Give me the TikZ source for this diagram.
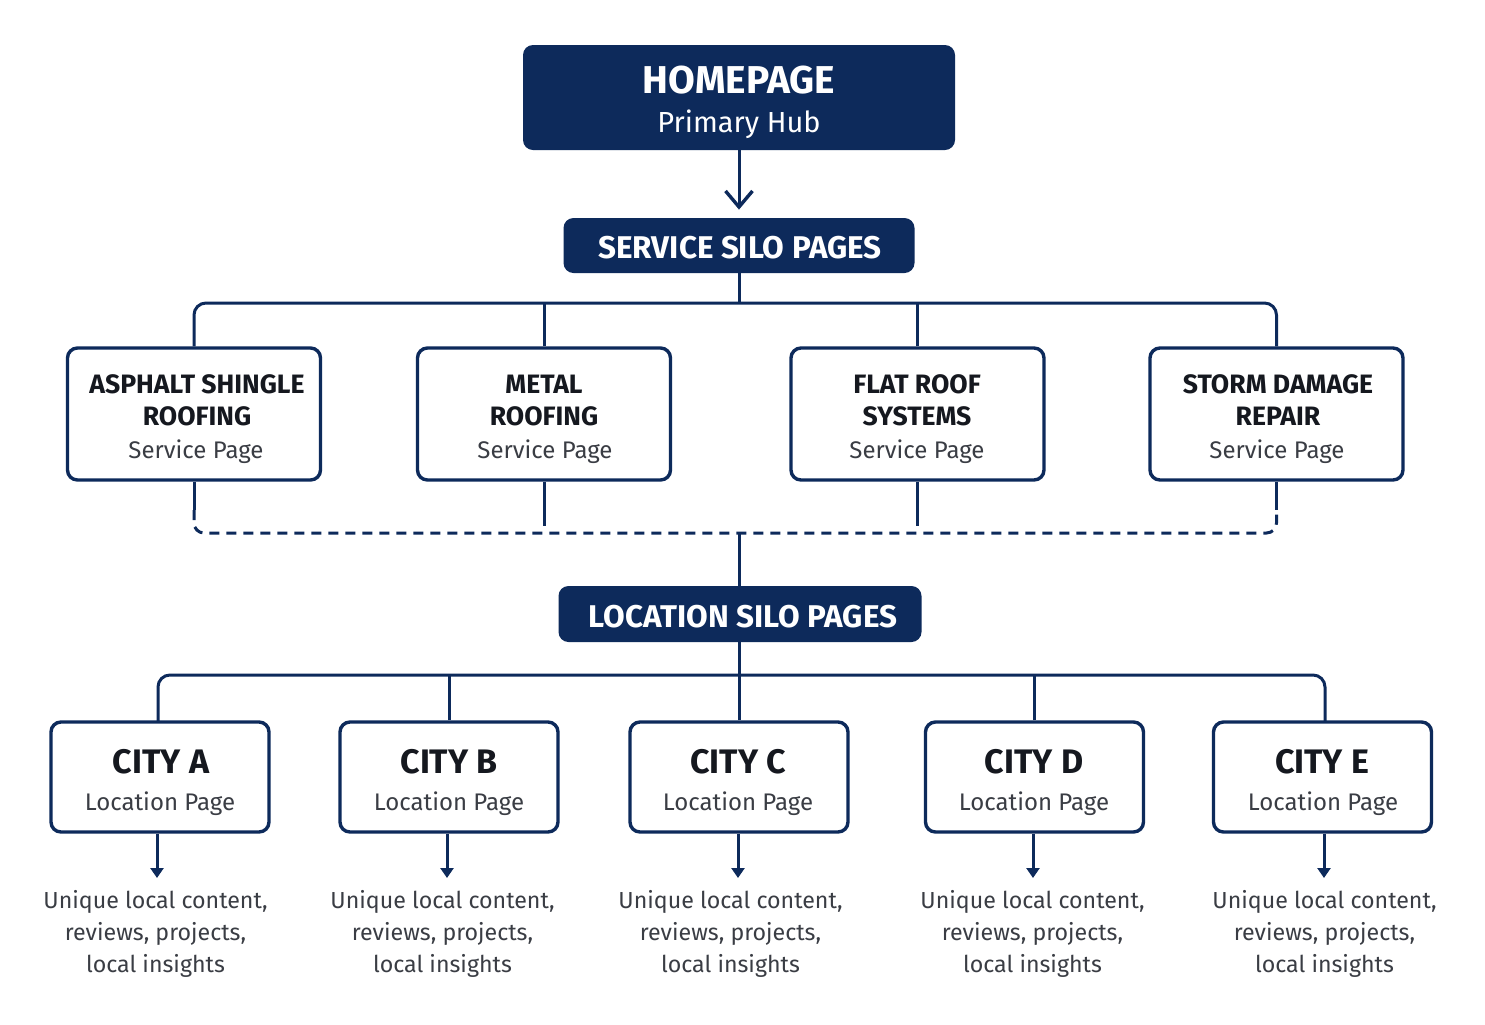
\documentclass[tikz,border=0pt]{standalone}
\usepackage{fontspec}
\setmainfont{Fira Sans}
\usetikzlibrary{arrows.meta}
\definecolor{navy}{HTML}{0D2A5B}
\definecolor{ink}{HTML}{15181F}
\definecolor{subgray}{HTML}{3A3D44}
\tikzset{
  hub/.style={fill=navy, rounded corners=5pt, draw=none, inner sep=0pt},
  svcbox/.style={draw=navy, line width=1.7pt, fill=white, rounded corners=5pt, minimum width=126.5pt, minimum height=66pt, inner sep=0pt},
  citybox/.style={draw=navy, line width=1.7pt, fill=white, rounded corners=5pt, minimum width=109pt, minimum height=55pt, inner sep=0pt},
  conn/.style={draw=navy, line width=1.5pt},
  dconn/.style={draw=navy, line width=1.5pt, dash pattern=on 5pt off 3.5pt},
  hubtitle/.style={text=white, font=\bfseries\fontsize{19.4}{22}\selectfont, anchor=base, inner sep=0pt},
  hubsub/.style={text=white, font=\fontsize{14.5}{17}\selectfont, anchor=base, inner sep=0pt},
  silotext/.style={text=white, font=\bfseries\fontsize{15.7}{18}\selectfont, anchor=base, inner sep=0pt},
  svctitle/.style={text=ink, font=\bfseries\fontsize{13.3}{16}\selectfont, anchor=base, inner sep=0pt, align=center},
  subtext/.style={text=subgray, font=\fontsize{12}{14}\selectfont, anchor=base, inner sep=0pt},
  citytitle/.style={text=ink, font=\bfseries\fontsize{17}{20}\selectfont, anchor=base, inner sep=0pt},
  desc/.style={text=subgray, font=\fontsize{11.6}{16}\selectfont, anchor=base, inner sep=0pt, align=center},
  cityarrow/.style={conn, -{Triangle[length=5pt,width=6.5pt]}},
}
\begin{document}
\begin{tikzpicture}[x=0.5pt,y=-0.5pt]
\useasboundingbox[fill=white] (0,0) rectangle (1485,1024);

% hub boxes
\node[hub, minimum width=216pt, minimum height=52.5pt] (home) at (739,97.5) {};
\node[hubtitle] (homet) at (739,93) {HOMEPAGE};
\node[hubsub] (homes) at (739,132) {Primary Hub};

\node[hub, minimum width=175.5pt, minimum height=27.5pt] (svc) at (739,245.5) {};
\node[silotext] (svct) at (740,258) {SERVICE SILO PAGES};

\node[hub, minimum width=181.5pt, minimum height=28pt] (loc) at (740,614) {};
\node[silotext] (loct) at (743,627) {LOCATION SILO PAGES};

\draw[conn, -{Straight Barb[length=8pt,width=13.5pt,line width=1.7pt]}] (home.south) -- ([yshift=4pt]svc.north);

% service boxes
\node[svcbox] (s1) at (194,414) {};
\node[svcbox] (s2) at (544,414) {};
\node[svcbox] (s3) at (917.5,414) {};
\node[svcbox] (s4) at (1276.5,414) {};

\node[svctitle] (t1) at (197,425) {ASPHALT SHINGLE\\ROOFING};
\node[svctitle] (t2) at (544,425) {METAL\\ROOFING};
\node[svctitle] (t3) at (917,425) {FLAT ROOF\\SYSTEMS};
\node[svctitle] (t4) at (1278,425) {STORM DAMAGE\\REPAIR};
\node[subtext] (u1) at (196,458) {Service Page};
\node[subtext] (u2) at (545,458) {Service Page};
\node[subtext] (u3) at (917,458) {Service Page};
\node[subtext] (u4) at (1277,458) {Service Page};

% service tree
\coordinate (sbar) at (739,303);
\draw[conn] (svc.south) -- (sbar);
\draw[conn, rounded corners=6pt] (s1.north) |- (sbar) -| (s4.north);
\draw[conn] (s2.north) -- (s2.north |- sbar);
\draw[conn] (s3.north) -- (s3.north |- sbar);

% dashed merge
\coordinate (m1) at (194,510);
\coordinate (m4) at (1276.5,510);
\coordinate (mbar) at (739,533);
\draw[conn] (s1.south) -- (m1);
\draw[conn] (s4.south) -- (m4);
\draw[conn] (s2.south) -- ++(0,-22pt);
\draw[conn] (s3.south) -- ++(0,-22pt);
\draw[dconn, rounded corners=5pt] (m1) |- (mbar) -| (m4);
\draw[conn] (mbar) -- (mbar |- loc.north);

% city boxes
\node[citybox] (ca) at (160,777) {};
\node[citybox] (cb) at (449,777) {};
\node[citybox] (cc) at (739,777) {};
\node[citybox] (cd) at (1034.5,777) {};
\node[citybox] (ce) at (1322.5,777) {};

\node[citytitle] (na) at (161,773) {CITY A};
\node[citytitle] (nb) at (449,773) {CITY B};
\node[citytitle] (nc) at (738,773) {CITY C};
\node[citytitle] (nd) at (1034,773) {CITY D};
\node[citytitle] (ne) at (1322,773) {CITY E};
\node[subtext] (la) at (160,810) {Location Page};
\node[subtext] (lb) at (449,810) {Location Page};
\node[subtext] (lc) at (738,810) {Location Page};
\node[subtext] (ld) at (1034,810) {Location Page};
\node[subtext] (le) at (1323,810) {Location Page};

% location tree
\coordinate (lbar) at (739,675);
\draw[conn] (lbar |- loc.south) -- (lbar);
\coordinate (la0) at (158,722);
\coordinate (le0) at (1325,722);
\draw[conn, rounded corners=6pt] (la0) |- (lbar) -| (le0);
\draw[conn] (cb.north) -- (cb.north |- lbar);
\draw[conn] (cc.north) -- (cc.north |- lbar);
\draw[conn] (cd.north) -- (cd.north |- lbar);

% arrows to descriptions
\coordinate (ta) at (157,878);
\coordinate (tb) at (447,878);
\coordinate (tc) at (738,878);
\coordinate (td) at (1033,878);
\coordinate (te) at (1324,878);
\draw[cityarrow] (ca.south -| ta) -- (ta);
\draw[cityarrow] (cb.south -| tb) -- (tb);
\draw[cityarrow] (cc.south -| tc) -- (tc);
\draw[cityarrow] (cd.south -| td) -- (td);
\draw[cityarrow] (ce.south -| te) -- (te);

\node[desc] (da) at (155.5,972) {Unique local content,\\reviews, projects,\\local insights};
\node[desc] (db) at (442.5,972) {Unique local content,\\reviews, projects,\\local insights};
\node[desc] (dc) at (730.5,972) {Unique local content,\\reviews, projects,\\local insights};
\node[desc] (dd) at (1032.5,972) {Unique local content,\\reviews, projects,\\local insights};
\node[desc] (de) at (1324.5,972) {Unique local content,\\reviews, projects,\\local insights};
\end{tikzpicture}
\end{document}
